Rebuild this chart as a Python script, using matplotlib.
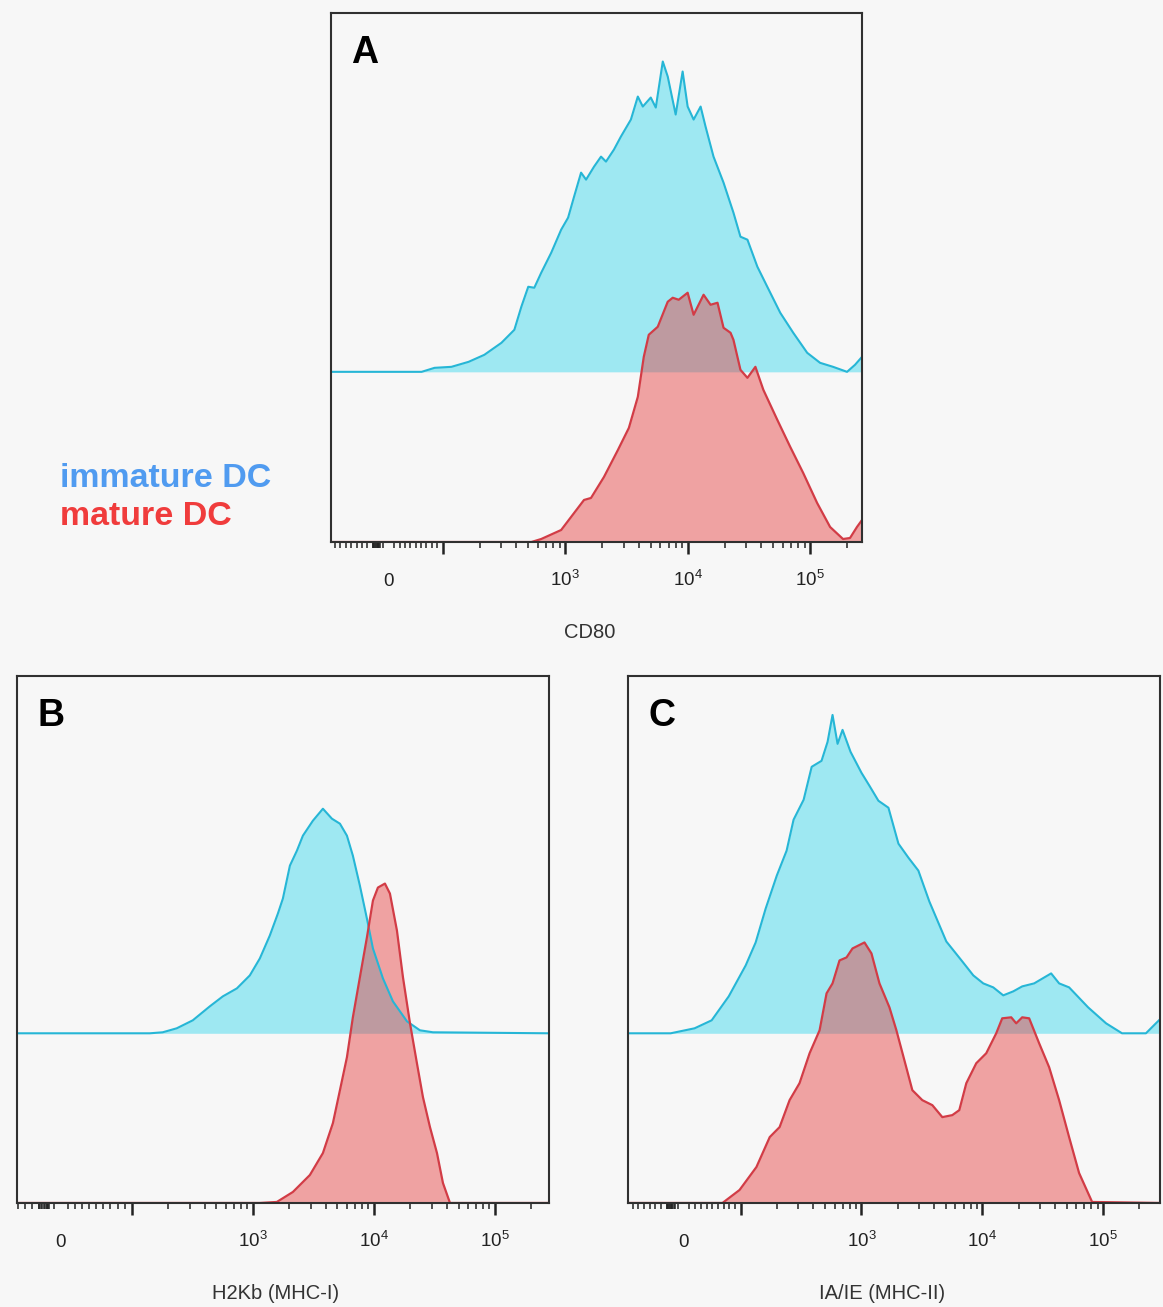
import numpy as np
import matplotlib
matplotlib.use("Agg")
import matplotlib.pyplot as plt
from matplotlib.ticker import FixedLocator

plt.rcParams['font.family'] = ['Liberation Sans', 'DejaVu Sans']
plt.rcParams['mathtext.fontset'] = 'custom'
plt.rcParams['mathtext.rm'] = 'Liberation Sans'

# --- data (x = fluorescence intensity, y = event count, a.u.) ---
# A: CD80
cd80_imm_x = [-108, 61, 85, 118, 163, 219, 302, 385, 439, 500,
              560, 638, 770, 928, 1057, 1183, 1349, 1482, 1722, 1963,
              2155, 2502, 2852, 3441, 3920, 4305, 5000, 5495, 6266, 6877,
              7986, 9100, 10000, 11190, 12760, 14000, 16260, 19630, 23650, 26980,
              30770, 37080, 44670, 57000, 72780, 94600, 120500, 153800, 200000, 232300,
              265000]
cd80_imm_y = [0, 0, 4, 5, 10, 17, 29, 42, 65, 85,
              84, 99, 119, 142, 154, 175, 199, 192, 205, 215,
              210, 222, 235, 252, 275, 265, 274, 264, 310, 295,
              257, 300, 265, 252, 265, 245, 215, 189, 159, 135,
              132, 105, 85, 59, 39, 19, 9, 5, 0, 7,
              15]
cd80_mat_x = [-108, 530, 638, 928, 1426, 1626, 2075, 2698, 3313, 3920,
              4385, 4816, 5701, 6877, 7554, 8453, 10000, 11190, 13490, 15380,
              17530, 19630, 22390, 23650, 26980, 30770, 35730, 41500, 53950, 68770,
              87720, 114000, 145500, 185400, 211500, 241000, 265000]
cd80_mat_y = [0, 0, 3, 12, 42, 44, 65, 92, 114, 145,
              185, 207, 215, 240, 244, 242, 249, 227, 247, 237,
              239, 214, 209, 202, 172, 164, 175, 152, 122, 95,
              69, 39, 15, 3, 4, 15, 22]

# B: H2Kb (MHC-I)
h2kb_imm_x = [-61, 141, 180, 235, 319, 441, 565, 738, 944, 1142,
              1381, 1610, 1770, 2023, 2312, 2590, 3133, 3790, 4500, 5240,
              5985, 6700, 7655, 8750, 9815, 11870, 14350, 18740, 23990, 30740,
              279000]
h2kb_imm_y = [0, 0, 1, 5, 13, 27, 37, 45, 58, 75,
              98, 120, 135, 168, 183, 198, 213, 225, 215, 210,
              198, 178, 148, 115, 85, 55, 32, 12, 3, 1,
              0]
h2kb_mat_x = [-61, 1142, 1578, 2141, 2958, 3790, 4583, 5240, 5985, 6700,
              7655, 8750, 9815, 10790, 12330, 13560, 15490, 17380, 19860, 22660,
              25410, 29040, 33180, 37170, 42490, 279000]
h2kb_mat_y = [0, 0, 1, 11, 28, 50, 80, 113, 146, 186,
              226, 266, 303, 316, 320, 310, 273, 226, 180, 140,
              106, 76, 50, 20, 0, 0]

# C: IA/IE (MHC-II)
iaie_imm_x = [-98, -23, 19, 49, 79, 110, 133, 161, 199, 240,
              274, 332, 387, 467, 524, 576, 634, 697, 812, 1000,
              1164, 1381, 1672, 2023, 2445, 2958, 3648, 5040, 6834, 8431,
              10190, 12330, 14920, 18050, 21420, 26900, 37170, 43290, 52360, 75200,
              105900, 143600, 226500, 274000, 296000]
iaie_imm_y = [0, 0, 5, 13, 37, 68, 91, 125, 158, 183,
              214, 234, 267, 273, 292, 319, 290, 304, 282, 261,
              248, 233, 226, 190, 176, 163, 132, 92, 72, 58,
              50, 46, 38, 42, 47, 50, 60, 50, 46, 26,
              10, 0, 0, 10, 14]
iaie_mat_x = [-98, 68, 98, 135, 174, 210, 254, 307, 372, 450,
              514, 576, 658, 752, 843, 1059, 1210, 1409, 1704, 1946,
              2266, 2637, 3190, 3860, 4670, 5650, 6454, 7379, 8920, 10790,
              13050, 14630, 17370, 19100, 21420, 24450, 29580, 35790, 43290, 52360,
              63340, 81170, 296000]
iaie_mat_y = [0, 0, 13, 36, 66, 76, 103, 120, 150, 173,
              210, 220, 243, 246, 255, 261, 250, 220, 196, 173,
              143, 113, 103, 98, 86, 88, 93, 120, 140, 150,
              170, 185, 186, 180, 186, 185, 160, 136, 103, 66,
              30, 1, 0]

tick_vals = [0, 100, 1000, 10000, 100000]
tick_text = ['0', '', r'$\mathregular{10^3}$', r'$\mathregular{10^4}$', r'$\mathregular{10^5}$']

BG = '#f7f7f7'
CYAN_FILL = '#9ee8f2'
CYAN_EDGE = '#26b6d6'
RED_FILL = '#e63c3c'
RED_EDGE = '#d23c46'
BLUE_OFFSET = 170


def draw_panel(ax, imm_x, imm_y, mat_x, mat_y, linscale, xlim, xlabel, label_x, letter):
    ax.set_facecolor(BG)
    ax.set_xscale('symlog', linthresh=100, linscale=linscale)
    top = np.array(imm_y) + BLUE_OFFSET
    ax.fill_between(imm_x, BLUE_OFFSET, top, color=CYAN_FILL, lw=0)
    ax.plot(imm_x, top, color=CYAN_EDGE, lw=1.5)
    ax.fill_between(mat_x, 0, mat_y, color=RED_FILL, alpha=0.45, lw=0)
    ax.plot(mat_x, mat_y, color=RED_EDGE, lw=1.6)
    ax.set_xlim(*xlim)
    ax.set_ylim(0, 528)
    ax.set_yticks([])

    # logicle-like ticks
    ax.set_xticks(tick_vals, tick_text)
    minor = list(range(-100, 100, 10)) + list(range(-30, -14, 2))
    for dec in [100, 1000, 10000, 100000]:
        minor += [dec * k for k in range(2, 10) if dec * k < xlim[1]]
    ax.xaxis.set_minor_locator(FixedLocator(minor))
    ax.tick_params(axis='x', which='major', direction='out', length=8.5, width=1.8,
                   pad=23, labelsize=13.5, colors='#222222')
    ax.tick_params(axis='x', which='minor', direction='out', length=4, width=1.1,
                   colors='#222222')
    ax.xaxis.get_major_ticks()[0].tick1line.set_visible(False)
    for lab in ax.get_xticklabels():
        lab.set_verticalalignment('baseline')

    ax.set_xlabel(xlabel, fontsize=14.5, color='#333333', va='baseline')
    ax.xaxis.set_label_coords(label_x, -0.182)

    for s in ax.spines.values():
        s.set_color('#303030')
        s.set_linewidth(1.5)

    ax.annotate(letter, xy=(0, 1), xycoords='axes fraction', xytext=(20, -50),
                textcoords='offset pixels', fontsize=27, fontweight='bold',
                va='baseline', ha='left', color='black')


fig = plt.figure(figsize=(11.63, 13.07), dpi=100, facecolor=BG)
ax_a = fig.add_axes([0.2846, 0.5853, 0.4566, 0.4044])
ax_b = fig.add_axes([0.0150, 0.0796, 0.4570, 0.4032])
ax_c = fig.add_axes([0.5400, 0.0796, 0.4574, 0.4032])

draw_panel(ax_a, cd80_imm_x, cd80_imm_y, cd80_mat_x, cd80_mat_y,
           0.395, (-108, 265000), 'CD80', 0.488, 'A')
draw_panel(ax_b, h2kb_imm_x, h2kb_imm_y, h2kb_mat_x, h2kb_mat_y,
           0.528, (-61, 279000), 'H2Kb (MHC-I)', 0.485, 'B')
draw_panel(ax_c, iaie_imm_x, iaie_imm_y, iaie_mat_x, iaie_mat_y,
           0.424, (-98, 296000), 'IA/IE (MHC-II)', 0.477, 'C')

fig.text(0.0516, 0.6274, 'immature DC', color='#509bf0', fontsize=24.5,
         fontweight='bold', va='baseline')
fig.text(0.0516, 0.5983, 'mature DC', color='#f03c3c', fontsize=24.5,
         fontweight='bold', va='baseline')

fig.savefig('out.png', dpi=100, facecolor=BG)
